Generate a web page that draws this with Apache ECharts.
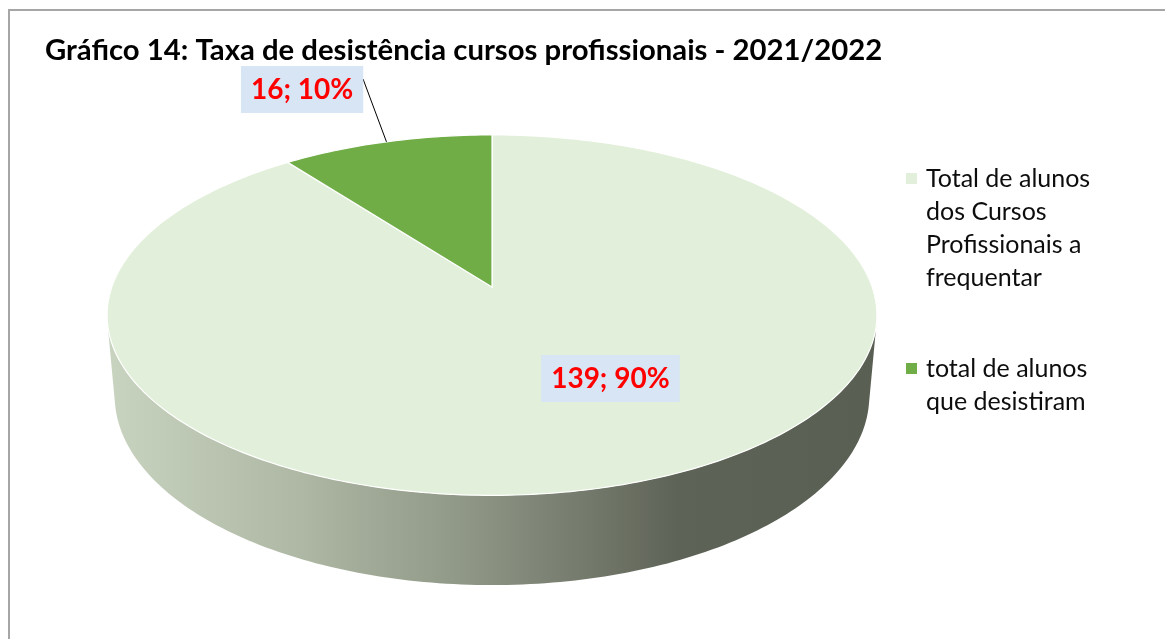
<!DOCTYPE html>
<html><head><meta charset="utf-8">
<script src="https://cdn.jsdelivr.net/npm/echarts@6/dist/echarts.min.js"></script>
<style>html,body{margin:0;padding:0;background:#fff}#c{width:1165px;height:639px}</style>
</head><body><div id="c"></div>
<script>
// ---- data ----
const titleText = 'Gráfico 14: Taxa de desistência cursos profissionais - 2021/2022';
const categories = ['Total de alunos dos Cursos Profissionais a frequentar', 'total de alunos que desistiram'];
const values = [139, 16];

// ---- styles ----
const colors = ['#e2efda', '#70ad47'];
const sideStops = [
  {offset: 0, color: '#c8d3c0'},
  {offset: 0.25, color: '#aeb8a4'},
  {offset: 0.5, color: '#8a9181'},
  {offset: 0.74, color: '#5e6357'},
  {offset: 1, color: '#5a5f53'}
];
// perspective projection of the 3D disk (centre, scale, tilt, camera distance, thickness)
const P = {cx: 492, cy: 287, k: 2159, s: 0.4625, c: 0.8866, d: 5.679, h: 0.242};
const labelLayout = [
  {r: 0.5, dx: 53, dy: 1.5, leader: null},
  {r: 1, dx: -84.4, dy: -52.3, leader: [-23.4, -62.8]}
];
const FONT = 'Lato';

function proj(deg, r, z) {
  const t = deg * Math.PI / 180;
  const X = r * Math.sin(t), Y = r * Math.cos(t);
  const den = P.d + Y * P.c - z * P.s;
  return [P.cx + P.k * X / den, P.cy - P.k * (Y * P.s + z * P.c) / den];
}
function arc(a0, a1, z) {
  const pts = [];
  const n = Math.max(2, Math.ceil(Math.abs(a1 - a0)));
  for (let q = 0; q <= n; q++) pts.push(proj(a0 + (a1 - a0) * q / n, 1, z));
  return pts;
}
function wrap(str, max) {
  const words = str.split(' ');
  const lines = [];
  let cur = '';
  words.forEach(w => {
    if (!cur) cur = w;
    else if ((cur + ' ' + w).length <= max) cur += ' ' + w;
    else { lines.push(cur); cur = w; }
  });
  if (cur) lines.push(cur);
  return lines;
}

const total = values.reduce((a, b) => a + b, 0);

function renderSlice(params, api) {
  const i = params.seriesIndex;
  let before = 0;
  for (let j = 0; j < i; j++) before += values[j];
  const v = api.value(0);
  const a0 = before / total * 360, a1 = (before + v) / total * 360;
  const children = [];
  const tv = Math.acos(-1 / (P.d * P.c)) * 180 / Math.PI;
  const s0 = Math.max(a0, tv), s1 = Math.min(a1, 360 - tv);
  if (s1 > s0) {
    const top = arc(s0, s1, 0);
    const bot = arc(s0, s1, -P.h).reverse();
    const xl = proj(360 - tv, 1, 0)[0], xr = proj(tv, 1, 0)[0];
    children.push({
      type: 'polygon',
      shape: {points: top.concat(bot)},
      style: {fill: new echarts.graphic.LinearGradient(xl, 0, xr, 0, sideStops, true), stroke: null}
    });
  }
  children.push({
    type: 'polygon',
    shape: {points: [proj(0, 0, 0)].concat(arc(a0, a1, 0))},
    style: {fill: colors[i], stroke: '#ffffff', lineWidth: 1.2}
  });
  const mid = (a0 + a1) / 2;
  const L = labelLayout[i];
  const anchor = proj(mid, L.r, 0);
  if (L.leader) {
    const e = proj(mid, 1, 0);
    children.push({
      type: 'line',
      shape: {x1: e[0], y1: e[1], x2: e[0] + L.leader[0], y2: e[1] + L.leader[1]},
      style: {stroke: '#000', lineWidth: 1}
    });
  }
  children.push({
    type: 'text',
    x: anchor[0] + L.dx, y: anchor[1] + L.dy,
    style: {
      text: v + '; ' + Math.round(v / total * 100) + '%',
      align: 'center', verticalAlign: 'middle',
      fill: '#ff0000', fontFamily: FONT, fontWeight: 'bold', fontSize: 28, lineHeight: 28,
      backgroundColor: '#d7e5f4', padding: [11, 10, 8, 10]
    }
  });
  return {type: 'group', children};
}

const chart = echarts.init(document.getElementById('c'), null, {renderer: 'canvas'});
const rich = {
  ti: {fontFamily: FONT, fontSize: 25, lineHeight: 33, color: '#0d0d0d', padding: [0, 0, 0, 20]},
  t: {fontFamily: FONT, fontSize: 25, lineHeight: 33, color: '#0d0d0d', padding: [0, 0, 0, 9]}
};
colors.forEach((c, i) => { rich['m' + i] = {width: 11, height: 11, backgroundColor: c, verticalAlign: 'middle'}; });

chart.setOption({
  backgroundColor: '#ffffff',
  animation: false,
  title: {
    text: titleText, left: 45, top: 36, padding: 0,
    textStyle: {fontFamily: FONT, fontWeight: 'bold', fontSize: 29.3, color: '#000'}
  },
  legend: {
    orient: 'vertical', left: 901, top: 166, itemGap: 66, padding: 0,
    icon: 'none', itemWidth: 0, itemHeight: 14, selectedMode: false,
    data: categories,
    formatter: name => {
      const i = categories.indexOf(name);
      return wrap(name, 15).map((l, j) => j === 0 ? '{m' + i + '|}{t|' + l + '}' : '{ti|' + l + '}').join('\n');
    },
    textStyle: {rich}
  },
  graphic: [{
    type: 'rect', silent: true, z: -10,
    shape: {x: 9, y: 10, width: 1200, height: 700},
    style: {fill: 'none', stroke: '#a6a6a6', lineWidth: 2}
  }],
  series: categories.map((name, i) => ({
    type: 'custom', name, coordinateSystem: 'none', silent: true,
    itemStyle: {color: colors[i]},
    renderItem: renderSlice,
    data: [values[i]]
  }))
});
</script></body></html>
